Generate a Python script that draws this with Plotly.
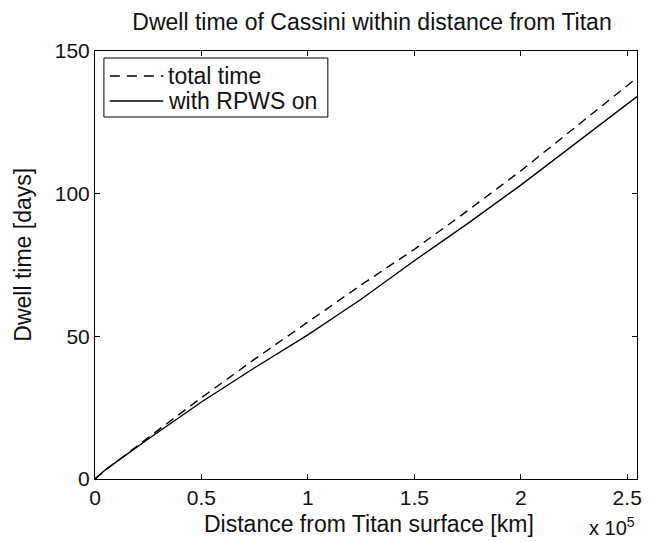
import plotly.graph_objects as go

# Distance from Titan surface [km]
distance_km = [0, 5000, 25000, 50000, 75000, 100000, 115000, 125000, 150000,
               175000, 200000, 225000, 254600]
# Dwell time [days]
total_time = [0, 3.2, 14.5, 28.5, 42.0, 55.0, 62.5, 68.0, 80.5, 94.0, 108.0, 123.0, 140.6]
rpws_on = [0, 3.3, 14.0, 27.0, 39.0, 50.5, 58.0, 63.0, 76.5, 89.5, 103.0, 117.2, 134.0]

series_names = ["total time", "with RPWS on"]
series_dash = ["9px,6px", "solid"]

x_tickvals = [0, 50000, 100000, 150000, 200000, 250000]
x_ticktext = ["0", "0.5", "1", "1.5", "2", "2.5"]
y_tickvals = [0, 50, 100, 150]

FONT = "Liberation Sans, Arial, Helvetica, sans-serif"
TXT = "#111"

L, R, T, B = 95, 7, 51, 63
W, H = 649, 542
PW, PH = W - L - R, H - T - B

def px_x(px):
    return (px - L) / PW

def px_y(py):
    return (H - B - py) / PH

fig = go.Figure()
for name, dash, ys in zip(series_names, series_dash, [total_time, rpws_on]):
    fig.add_trace(go.Scatter(x=distance_km, y=ys, mode="lines", name=name,
                             line=dict(color="black", width=1.4, dash=dash)))

axis_common = dict(showline=True, linecolor="black", linewidth=1, mirror="ticks",
                   ticks="inside", ticklen=5, tickcolor="black", showgrid=False,
                   zeroline=False, tickfont=dict(size=21, color=TXT, family=FONT))

fig.update_layout(
    width=W, height=H,
    margin=dict(l=L, r=R, t=T, b=B),
    paper_bgcolor="white", plot_bgcolor="white",
    font=dict(family=FONT, color=TXT),
    title=dict(text="Dwell time of Cassini within distance from Titan",
               x=372 / W, xanchor="center", y=1 - 22 / H, yanchor="middle",
               font=dict(size=23, family=FONT, color=TXT)),
    xaxis=dict(range=[0, 254600], tickvals=x_tickvals, ticktext=x_ticktext,
               **axis_common),
    yaxis=dict(range=[0, 150], tickvals=y_tickvals, **axis_common),
    showlegend=False,
)

# Legend box (MATLAB style) drawn in paper coordinates
fig.add_shape(type="rect", xref="paper", yref="paper",
              x0=px_x(104), x1=px_x(330), y0=px_y(117), y1=px_y(58),
              line=dict(color="black", width=1), fillcolor="white", layer="above")
row_y = [76, 101]
for name, dash, ry in zip(series_names, series_dash, row_y):
    fig.add_shape(type="line", xref="paper", yref="paper",
                  x0=px_x(110), x1=px_x(164), y0=px_y(ry), y1=px_y(ry),
                  line=dict(color="black", width=1.4,
                            dash="10px,7px" if dash != "solid" else "solid"),
                  layer="above")
    fig.add_annotation(text=name, xref="paper", yref="paper",
                       x=px_x(167), y=px_y(ry), xanchor="left", yanchor="middle",
                       showarrow=False, font=dict(size=23, family=FONT, color=TXT))

fig.add_annotation(text="Distance from Titan surface [km]", xref="paper", yref="paper",
                   x=px_x(372), y=px_y(524), xanchor="center", yanchor="middle",
                   showarrow=False, font=dict(size=23, family=FONT, color=TXT))
fig.add_annotation(text="Dwell time [days]", xref="paper", yref="paper", textangle=-90,
                   x=px_x(22), y=px_y(255), xanchor="center", yanchor="middle",
                   showarrow=False, font=dict(size=23, family=FONT, color=TXT))
fig.add_annotation(text="x 10<sup>5</sup>", xref="paper", yref="paper",
                   x=px_x(642), y=px_y(541), xanchor="right", yanchor="bottom",
                   showarrow=False, font=dict(size=20, family=FONT, color=TXT))

fig.write_html("out.html")
